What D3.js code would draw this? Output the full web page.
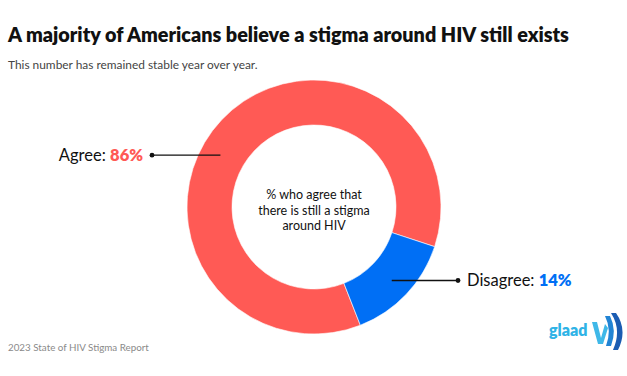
<!DOCTYPE html>
<html>
<head>
<meta charset="utf-8">
<script src="https://cdn.jsdelivr.net/npm/d3@7"></script>
<style>
  body { margin: 0; background: #fff; }
  svg { display: block; font-family: Lato, "Noto Sans", sans-serif; }
</style>
</head>
<body>
<svg id="drawing_region"></svg>
<script>
// data
const categories = ['Agree', 'Disagree'];
const values = [86, 14];
const colors = ['#ff5a55', '#006ff5'];
const centerText = ['% who agree that', 'there is still a stigma', 'around HIV'];

const title = 'A majority of Americans believe a stigma around HIV still exists';
const subtitle = 'This number has remained stable year over year.';
const source = '2023 State of HIV Stigma Report';

const config = {
  width: 627,
  height: 376,
  cx: 314,
  cy: 207,
  outer: 127,
  inner: 82,
  start: 158.6  // degrees, clockwise from top
};

const svg = d3.select('#drawing_region')
  .attr('width', config.width)
  .attr('height', config.height);

// titles
svg.append('text')
  .attr('x', 8).attr('y', 42)
  .attr('font-size', 19.8).attr('font-weight', 800)
  .attr('fill', '#111')
  .text(title);

svg.append('text')
  .attr('x', 8).attr('y', 69)
  .attr('font-size', 11.9).attr('fill', '#444')
  .text(subtitle);

svg.append('text')
  .attr('x', 8).attr('y', 351)
  .attr('font-size', 9.8).attr('fill', '#8a8a8a')
  .text(source);

// donut
const rad = d => d * Math.PI / 180;
const pie = d3.pie()
  .sort(null)
  .value(d => d.value)
  .startAngle(rad(config.start))
  .endAngle(rad(config.start) + 2 * Math.PI);

const table = categories.map((c, i) => ({ name: c, value: values[i], color: colors[i] }));
const arcs = pie(table);

const arc = d3.arc().innerRadius(config.inner).outerRadius(config.outer);

const chart = svg.append('g')
  .attr('transform', `translate(${config.cx}, ${config.cy})`);

chart.selectAll('path')
  .data(arcs)
  .enter()
  .append('path')
  .attr('d', arc)
  .attr('fill', d => d.data.color)
  .attr('stroke', '#fff')
  .attr('stroke-width', 0.6);

// center text
chart.selectAll('.center')
  .data(centerText)
  .enter()
  .append('text')
  .attr('class', 'center')
  .attr('x', 0)
  .attr('y', (d, i) => -8 + i * 15.5)
  .attr('text-anchor', 'middle')
  .attr('font-size', 12.5)
  .attr('fill', '#111')
  .text(d => d);

// leader labels
const labelRadius = 107;
const labelLayout = [
  { angle: 299, lineTo: -162, side: -1 },
  { angle: null, lineTo: 144, side: 1 }
];

arcs.forEach((a, i) => {
  const lay = labelLayout[i];
  const ang = lay.angle !== null ? rad(lay.angle) : (a.startAngle + a.endAngle) / 2;
  const ax = labelRadius * Math.sin(ang);
  const ay = -labelRadius * Math.cos(ang);
  const g = chart.append('g');
  g.append('line')
    .attr('x1', ax).attr('y1', ay)
    .attr('x2', lay.lineTo).attr('y2', ay)
    .attr('stroke', '#111').attr('stroke-width', 1.3);
  g.append('circle')
    .attr('cx', lay.lineTo).attr('cy', ay).attr('r', 2.4)
    .attr('fill', '#111');
  const t = g.append('text')
    .attr('x', lay.lineTo + lay.side * 9)
    .attr('y', ay + 5.5)
    .attr('text-anchor', lay.side < 0 ? 'end' : 'start')
    .attr('font-size', 16.5)
    .attr('fill', '#111');
  t.append('tspan').text(a.data.name + ': ');
  t.append('tspan')
    .attr('font-weight', 800)
    .attr('fill', a.data.color)
    .text(a.data.value + '%');
});

// glaad logo
const logo = svg.append('g').attr('transform', 'translate(549, 336)');
logo.append('text')
  .attr('x', 0).attr('y', 0)
  .attr('font-size', 16).attr('font-weight', 800)
  .attr('fill', '#2fb3e6')
  .text('glaad');
const waves = [
  { d: 'M43,-14 L48,-14 L52,2 L56,-12 L59,-8 L54,8 L49,8 Z', c: '#3fb8e8' },
  { d: 'M56,-20 Q63,-6 57,10 L62,10 Q68,-6 61,-20 Z', c: '#2284d4' },
  { d: 'M62,-23 Q73,-6 64,14 L69,14 Q79,-6 67,-23 Z', c: '#1b5cb2' }
];
logo.selectAll('.wave')
  .data(waves)
  .enter()
  .append('path')
  .attr('class', 'wave')
  .attr('d', d => d.d)
  .attr('fill', d => d.c);
</script>
</body>
</html>
